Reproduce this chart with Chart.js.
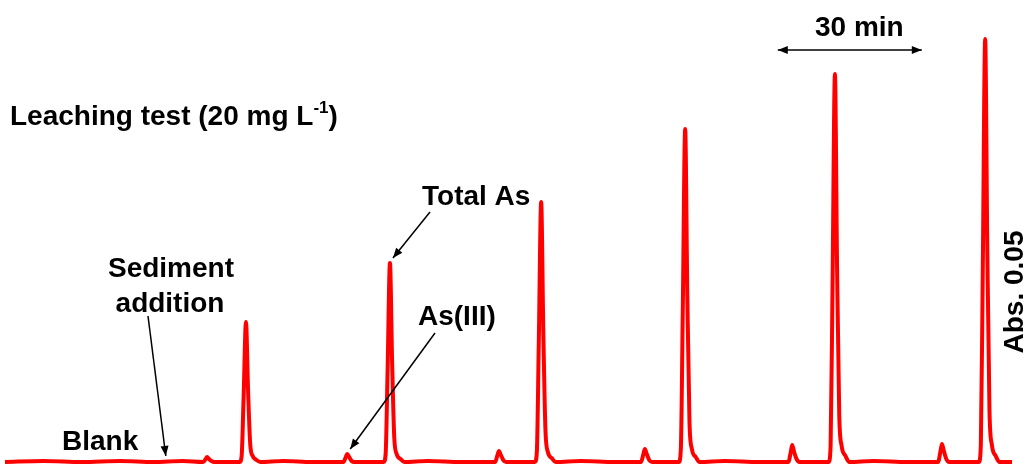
<!DOCTYPE html>
<html>
<head>
<meta charset="utf-8">
<script src="https://cdn.jsdelivr.net/npm/chart.js@4"></script>
<style>
  html, body { margin: 0; padding: 0; background: #ffffff; }
  #wrap { width: 1030px; height: 466px; }
</style>
</head>
<body>
<div id="wrap"><canvas id="trace" width="1030" height="466"></canvas></div>
<script>
// time (min) and absorbance
const timeMin = [
  0, 8, 16, 24, 31, 37,
  41.3, 41.8, 42.1, 42.5, 43.0, 43.6,            // As(III), blank + sediment
  48.9, 49.3, 49.7, 50.2, 50.65, 51.1, 51.6, 52.4, 53.2, // total As
  58, 64, 70.5, 71.0, 71.3, 71.7, 72.2, 72.8,
  78.9, 79.3, 79.7, 80.2, 80.65, 81.1, 81.6, 82.4, 83.2,
  88, 95, 102.1, 102.6, 102.9, 103.3, 103.8, 104.4,
  110.4, 110.8, 111.2, 111.7, 112.15, 112.6, 113.1, 113.9, 114.7,
  120, 127, 132.5, 133.0, 133.3, 133.7, 134.2, 134.8,
  140.4, 140.8, 141.2, 141.7, 142.15, 142.6, 143.1, 143.9, 144.7,
  150, 157, 163.2, 163.7, 164.0, 164.4, 164.9, 165.5,
  171.6, 172.0, 172.4, 172.9, 173.35, 173.8, 174.3, 175.1, 175.9,
  181, 188, 194.4, 194.9, 195.2, 195.6, 196.1, 196.7,
  202.9, 203.3, 203.7, 204.2, 204.65, 205.1, 205.6, 206.4, 207.2,
  209.8
];
const absorbance = [
  0, 0.001, 0, 0.001, 0, 0.001,
  0, 0.003, 0.005, 0.003, 0.001, 0,
  0, 0.006, 0.063, 0.140, 0.070, 0.017, 0.006, 0.002, 0,
  0.001, 0, 0, 0.005, 0.008, 0.005, 0.001, 0,
  0, 0.008, 0.090, 0.199, 0.100, 0.024, 0.008, 0.003, 0,
  0.001, 0, 0, 0.007, 0.011, 0.007, 0.002, 0,
  0, 0.010, 0.117, 0.260, 0.130, 0.031, 0.010, 0.004, 0,
  0.001, 0, 0, 0.008, 0.013, 0.008, 0.002, 0,
  0, 0.013, 0.150, 0.333, 0.167, 0.040, 0.013, 0.005, 0,
  0.001, 0, 0, 0.010, 0.017, 0.010, 0.003, 0,
  0, 0.016, 0.175, 0.388, 0.194, 0.047, 0.016, 0.006, 0,
  0.001, 0, 0, 0.011, 0.018, 0.011, 0.003, 0,
  0, 0.017, 0.190, 0.423, 0.212, 0.051, 0.017, 0.006, 0,
  0
];
// where the arrows point (time, absorbance)
const sedimentAt = [33.5, 0];
const totalAsAt = [80.2, 0.199];
const as3At = [71.3, 0.008];
// time scale bar: start and length in minutes
const scaleBar = [161.0, 30];

const points = timeMin.map((t, i) => ({ x: t, y: absorbance[i] }));

const FONT = 'bold 28px "Liberation Sans", Arial, sans-serif';

function arrow(ctx, x1, y1, x2, y2, both) {
  const a = Math.atan2(y2 - y1, x2 - x1);
  const len = 10, w = 4;
  ctx.beginPath();
  ctx.moveTo(x1, y1);
  ctx.lineTo(x2, y2);
  ctx.stroke();
  const head = (x, y, ang) => {
    ctx.beginPath();
    ctx.moveTo(x, y);
    ctx.lineTo(x - len * Math.cos(ang) + w * Math.sin(ang), y - len * Math.sin(ang) - w * Math.cos(ang));
    ctx.lineTo(x - len * Math.cos(ang) - w * Math.sin(ang), y - len * Math.sin(ang) + w * Math.cos(ang));
    ctx.closePath();
    ctx.fill();
  };
  head(x2, y2, a);
  if (both) head(x1, y1, a + Math.PI);
}

const labels = {
  id: 'labels',
  afterDatasetsDraw(chart) {
    const { ctx } = chart;
    const sx = chart.scales.x, sy = chart.scales.y;
    ctx.save();
    ctx.fillStyle = '#000';
    ctx.strokeStyle = '#000';
    ctx.lineWidth = 1.5;
    ctx.font = FONT;
    ctx.textBaseline = 'alphabetic';

    // title with superscript
    ctx.textAlign = 'left';
    let tx = 10;
    const main = 'Leaching test (20 mg L';
    ctx.fillText(main, tx, 125);
    tx += ctx.measureText(main).width;
    ctx.font = 'bold 17px "Liberation Sans", Arial, sans-serif';
    ctx.fillText('-1', tx, 113);
    tx += ctx.measureText('-1').width;
    ctx.font = FONT;
    ctx.fillText(')', tx, 125);

    ctx.textAlign = 'center';
    ctx.fillText('Sediment', 171, 277);
    ctx.fillText('addition', 170, 312);
    ctx.textAlign = 'left';
    ctx.fillText('Blank', 62, 450);
    ctx.fillText('Total As', 422, 205);
    ctx.fillText('As(III)', 418, 325);
    ctx.fillText('30 min', 815, 36);

    // arrows
    arrow(ctx, 148, 316, sx.getPixelForValue(sedimentAt[0]), sy.getPixelForValue(sedimentAt[1]) - 6);
    arrow(ctx, 430, 212, sx.getPixelForValue(totalAsAt[0]) + 3, sy.getPixelForValue(totalAsAt[1]) - 5);
    arrow(ctx, 435, 333, sx.getPixelForValue(as3At[0]) + 3, sy.getPixelForValue(as3At[1]) - 5);
    const x0 = sx.getPixelForValue(scaleBar[0]);
    const x1 = sx.getPixelForValue(scaleBar[0] + scaleBar[1]);
    arrow(ctx, x0, 50, x1, 50, true);

    // vertical scale label
    ctx.translate(1023, 292);
    ctx.rotate(-Math.PI / 2);
    ctx.textAlign = 'center';
    ctx.fillText('Abs. 0.05', 0, 0);
    ctx.restore();
  }
};

new Chart(document.getElementById('trace'), {
  type: 'line',
  data: {
    datasets: [{
      data: points,
      borderColor: '#ff0000',
      borderWidth: 4,
      pointRadius: 0,
      fill: false,
      cubicInterpolationMode: 'monotone',
      clip: false
    }]
  },
  options: {
    responsive: false,
    animation: false,
    layout: { padding: 0 },
    plugins: {
      legend: { display: false },
      tooltip: { enabled: false },
      title: { display: false }
    },
    scales: {
      x: { type: 'linear', display: false, min: -1.042, max: 213.54 },
      y: { display: false, min: -0.004, max: 0.462 }
    }
  },
  plugins: [labels]
});
</script>
</body>
</html>
